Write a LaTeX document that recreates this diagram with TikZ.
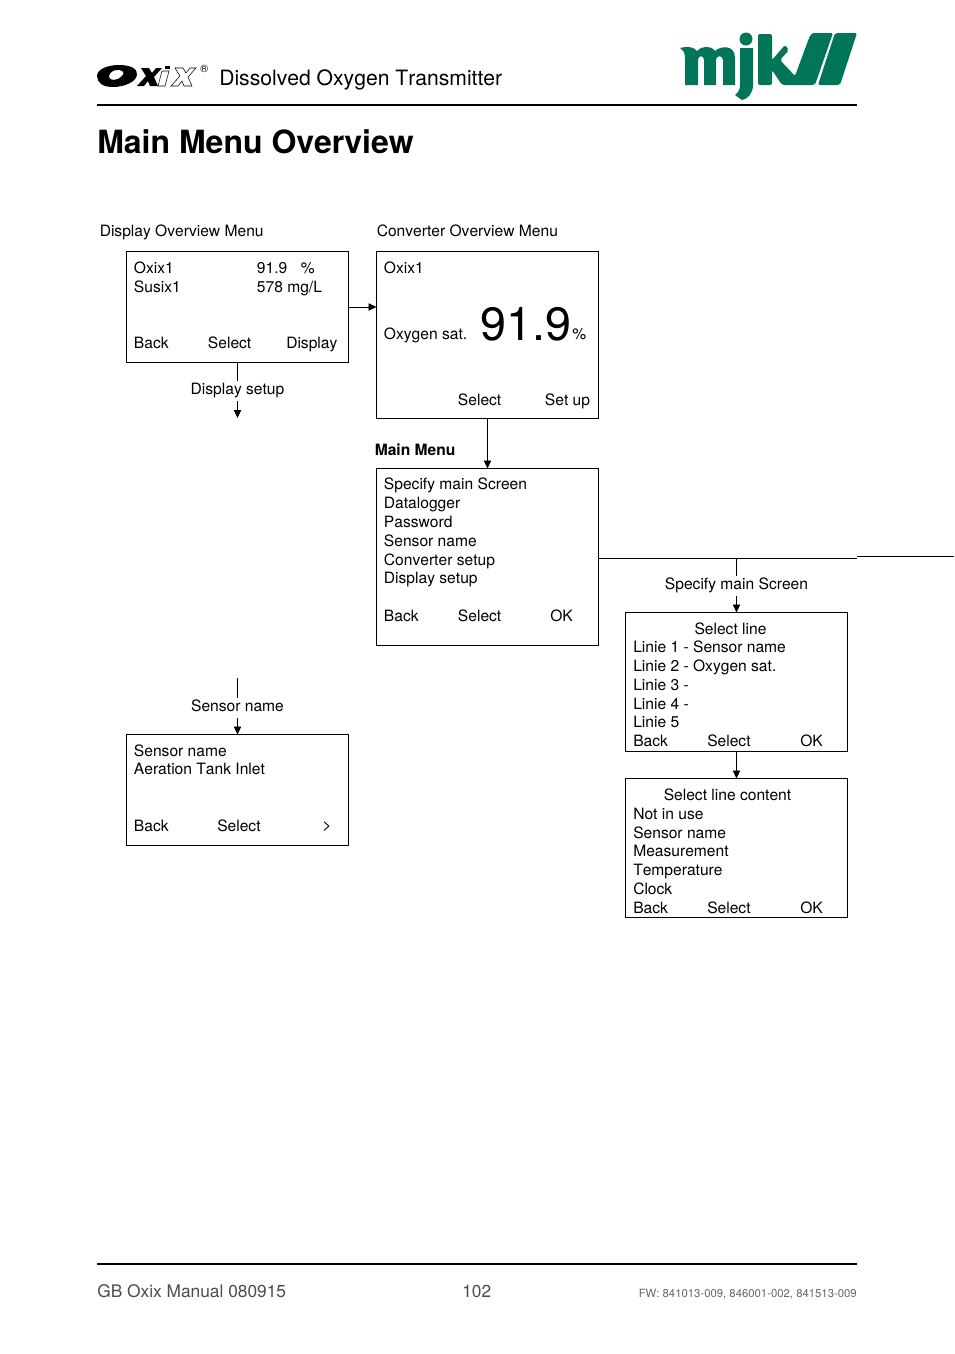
\documentclass[tikz,border=0pt]{standalone}
\usepackage{fontspec}
\setmainfont[Kerning=Off]{TeX Gyre Heros}
\definecolor{mjkgreen}{RGB}{0,117,88}
\usetikzlibrary{arrows.meta}
\tikzset{
  menubox/.style={draw, line width=0.6pt, anchor=north west, inner sep=0pt, outer sep=0pt},
  menutxt/.style={anchor=base west, inner sep=0pt, font=\fontsize{11.7}{14}\selectfont},
  menumid/.style={menutxt, anchor=base},
  linklabel/.style={menumid, text height=9.75pt, text depth=5pt},
  link/.style={line width=0.6pt},
  arrowlink/.style={link, -{Triangle[length=6pt,width=5.5pt]}},
  headrule/.style={line width=1.2pt},
  logocross/.pic={\path[pic actions] (0,0) -- (8,0) -- (11,5) -- (15,0) -- (21,0) -- (13,9) -- (17,18) -- (9,18) -- (7,13) -- (3,18) -- (-4,18) -- (5,8) -- cycle;},
}
\begin{document}
\begin{tikzpicture}[x=0.75pt, y=-0.75pt]
  \useasboundingbox (0,0) rectangle (954,1354);
  % header
  \coordinate (hl) at (97,105);
  \coordinate (hr) at (857,105);
  \draw[headrule] (hl) -- (hr);
  \node[menutxt, font=\fontsize{15.85}{18}\selectfont] (subtitle) at (219,85.5) {Dissolved Oxygen Transmitter};
  \node[menutxt, font=\fontsize{24}{28}\selectfont\bfseries] (title) at (97,153.5) {Main Menu Overview};
  % oxix logo
  \fill[even odd rule] (97,76) .. controls (97,69) and (108,65) .. (119,65) .. controls (131,65) and (138,69) .. (137,75)
    .. controls (136,82) and (124,87) .. (113,87) .. controls (103,87) and (97,83) .. (97,76)
    (109,77) .. controls (109,81) and (118,81) .. (122,76) .. controls (126,71) and (121,70) .. (117,70) .. controls (113,70) and (109,73) .. (109,77);
  \pic[fill=black] at (141,68) {logocross};
  \fill[white, draw=black, line width=0.4pt] (162,71) -- (169,71) -- (165,86) -- (158,86) -- cycle;
  \fill[black] (165,66) rectangle (170,69);
  \pic[fill=white, draw=black, line width=0.4pt] at (175,68) {logocross};
  \node[menutxt, font=\fontsize{8}{8}\selectfont] (logor) at (200,72) {®};
  % mjk logo
  \fill[mjkgreen] (680,48) .. controls (688,46) and (694,47) .. (697,51) .. controls (701,46) and (711,45) .. (715,51)
    .. controls (720,46) and (735,44) .. (735,58) -- (735,85) -- (723,85) -- (723,60) .. controls (723,55) and (716,55) .. (716,60)
    -- (716,85) -- (704,85) -- (704,60) .. controls (704,55) and (698,55) .. (698,60) -- (698,85) -- (685,85) -- (685,58)
    .. controls (685,52) and (683,50) .. (680,48) -- cycle;
  \fill[mjkgreen] (740,48) -- (753,48) -- (753,85) .. controls (753,93) and (748,99) .. (742,100) -- (735,95)
    .. controls (739,92) and (740,89) .. (740,84) -- cycle;
  \fill[mjkgreen] (746,39) circle[radius=6.5];
  \fill[mjkgreen, rounded corners=1.5pt] (758,34) -- (772,34) -- (772,60) -- (785,45) -- (789,50) -- (780,60) -- (795,76)
    -- (809,38) .. controls (811,34) and (813,33) .. (816,33) -- (833,33) -- (815,85) -- (782,85) -- (772,70) -- (772,85) -- (758,85) -- cycle;
  \fill[mjkgreen, rounded corners=1.5pt] (835,33) -- (857,33) -- (840,85) -- (818,85) -- cycle;
  % display overview
  \node[menutxt] (dolabel) at (99.5,236) {Display Overview Menu};
  \node[menubox, minimum width=166.5pt, minimum height=83.25pt] (dobox) at (126.5,251.5) {};
  \node[menutxt] (do1) at (133.7,273) {Oxix1};
  \node[menutxt] (do2) at (256.7,273) {91.9};
  \node[menutxt] (do3) at (300.7,273) {\%};
  \node[menutxt] (do4) at (133.7,292) {Susix1};
  \node[menutxt] (do5) at (256.7,292) {578 mg/L};
  \node[menutxt] (do6) at (133.7,348) {Back};
  \node[menutxt] (do7) at (207.7,348) {Select};
  \node[menutxt] (do8) at (286,348) {Display};
  % converter overview
  \node[menutxt] (colabel) at (376.5,236) {Converter Overview Menu};
  \node[menubox, minimum width=166.5pt, minimum height=125.25pt] (cobox) at (376.5,251.5) {};
  \node[menutxt] (co1) at (383.7,273) {Oxix1};
  \node[menutxt] (co2) at (383.7,339) {Oxygen sat.};
  \node[menutxt, font=\fontsize{35}{40}\selectfont] (co3) at (480.5,340) {91.9};
  \node[menutxt] (co4) at (572,339) {\%};
  \node[menutxt] (co5) at (457.7,405) {Select};
  \node[menutxt] (co6) at (544.7,405) {Set up};
  \draw[arrowlink] (dobox.east |- 0,307) -- (cobox.west |- 0,307);
  % display setup stub
  \node[linklabel] (dslabel) at (237.5,394) {Display setup};
  \coordinate (dsend) at (237.5,418);
  \draw[link] (dobox.south) -- (dslabel.north);
  \draw[arrowlink] (dslabel.south) -- (dsend);
  % main menu
  \node[menutxt, font=\fontsize{11.7}{14}\selectfont\bfseries] (mmlabel) at (374.5,455) {Main Menu};
  \node[menubox, minimum width=166.5pt, minimum height=132.75pt] (mmbox) at (376.5,468.5) {};
  \draw[arrowlink] (cobox.south) -- (mmbox.north);
  \foreach \nm/\yy/\lab in {a/489/Specify main Screen, b/508/Datalogger, c/527/Password, d/546/Sensor name,
      e/565/Converter setup, f/583/Display setup, g/621/Back} {
    \node[menutxt] (mm\nm) at (383.7,\yy) {\lab};
  }
  \node[menutxt] (mmh) at (457.7,621) {Select};
  \node[menutxt] (mmi) at (550,621) {OK};
  % specify main screen branch
  \coordinate (brmid) at (736.5,558);
  \coordinate (brend) at (857,558);
  \coordinate (brstub) at (857,556.5);
  \coordinate (brout) at (954,556.5);
  \draw[link] (mmbox.east |- brmid) -- (brend);
  \draw[link] (brstub) -- (brout);
  \node[linklabel] (smlabel) at (736.5,589) {Specify main Screen};
  \node[menubox, minimum width=166.5pt, minimum height=104.25pt] (slbox) at (625.5,612.5) {};
  \draw[link] (brmid) -- (smlabel.north);
  \draw[arrowlink] (smlabel.south) -- (slbox.north);
  \node[menumid] (sl0) at (730.5,634) {Select line};
  \foreach \nm/\yy/\lab in {a/652/Linie 1 - Sensor name, b/671/Linie 2 - Oxygen sat., c/690/Linie 3 -,
      d/709/Linie 4 -, e/727/Linie 5, f/746/Back} {
    \node[menutxt] (sl\nm) at (633,\yy) {\lab};
  }
  \node[menutxt] (slg) at (707,746) {Select};
  \node[menutxt] (slh) at (800,746) {OK};
  \node[menubox, minimum width=166.5pt, minimum height=104.25pt] (lcbox) at (625.5,778.5) {};
  \draw[arrowlink] (slbox.south) -- (lcbox.north);
  \node[menumid] (lc0) at (727.5,800) {Select line content};
  \foreach \nm/\yy/\lab in {a/819/Not in use, b/838/Sensor name, c/856/Measurement,
      d/875/Temperature, e/894/Clock, f/913/Back} {
    \node[menutxt] (lc\nm) at (633,\yy) {\lab};
  }
  \node[menutxt] (lcg) at (707,913) {Select};
  \node[menutxt] (lch) at (800,913) {OK};
  % sensor name
  \coordinate (snstart) at (237.5,678);
  \node[linklabel] (snlabel) at (237.5,711) {Sensor name};
  \node[menubox, minimum width=166.5pt, minimum height=83.25pt] (snbox) at (126.5,734.5) {};
  \draw[link] (snstart) -- (snlabel.north);
  \draw[arrowlink] (snlabel.south) -- (snbox.north);
  \node[menutxt] (sn1) at (133.7,756) {Sensor name};
  \node[menutxt] (sn2) at (133.7,774) {Aeration Tank Inlet};
  \node[menutxt] (sn3) at (133.7,831) {Back};
  \node[menutxt] (sn4) at (217,831) {Select};
  \node[menutxt] (sn5) at (322,830) {>};
  % footer
  \coordinate (fl) at (97,1264);
  \coordinate (fr) at (857,1264);
  \draw[headrule] (fl) -- (fr);
  \node[menutxt, text=black!70, font=\fontsize{13}{16}\selectfont] (ft1) at (97,1297) {GB Oxix Manual 080915};
  \node[menutxt, text=black!70, font=\fontsize{13}{16}\selectfont] (ft2) at (462,1297) {102};
  \node[menutxt, anchor=base east, text=black!60, font=\fontsize{8.5}{10}\selectfont] (ft3) at (857,1297) {FW: 841013-009, 846001-002, 841513-009};
\end{tikzpicture}
\end{document}
